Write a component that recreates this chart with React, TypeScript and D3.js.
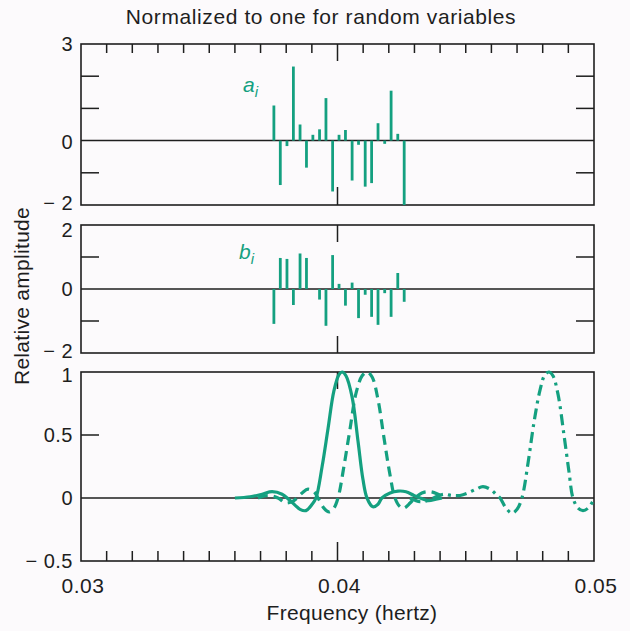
import React from "react";
import * as d3 from "d3";

// Bar frequencies (Hz) and coefficients
const BAR_FREQS = [0.03752, 0.03777, 0.03803, 0.03828, 0.03854, 0.03879, 0.03904, 0.0393, 0.03955, 0.03981, 0.04006, 0.04031, 0.04057, 0.04082, 0.04108, 0.04133, 0.04158, 0.04184, 0.04209, 0.04235, 0.0426];
const A_VALUES = [1.09, -1.38, -0.17, 2.3, 0.5, -0.84, 0.18, 0.35, 1.32, -1.58, 0.18, 0.33, -1.24, -0.13, -1.43, -1.32, 0.54, -0.1, 1.55, 0.21, -2.0];
const B_VALUES = [-1.09, 0.97, 0.94, -0.5, 1.11, 0.97, 0, -0.33, -1.15, 1.06, 0.16, -0.52, 0.2, -0.91, -0.18, -0.87, -1.12, -0.13, -0.87, 0.5, -0.4];

// Bottom panel curves
const SOLID_F = [0.036, 0.03659, 0.03706, 0.03745, 0.03784, 0.03815, 0.03854, 0.03877, 0.03901, 0.03916, 0.0394, 0.03963, 0.03986, 0.04006, 0.04018, 0.04033, 0.04057, 0.0408, 0.04099, 0.04115, 0.04138, 0.04158, 0.04173, 0.04205, 0.04236, 0.04267, 0.04298, 0.04322, 0.04353, 0.04384, 0.04407];
const SOLID_V = [0.0, 0.01, 0.03, 0.05, 0.03, -0.02, -0.09, -0.1, -0.05, 0.0, 0.25, 0.55, 0.85, 0.98, 1.0, 0.97, 0.8, 0.45, 0.15, 0.0, -0.07, -0.05, 0.0, 0.04, 0.055, 0.05, 0.02, 0.0, -0.02, -0.01, 0.0];

const DASHED_F = [0.0369, 0.03729, 0.03768, 0.03799, 0.0383, 0.03862, 0.03885, 0.03908, 0.03924, 0.03947, 0.03967, 0.03986, 0.04002, 0.04025, 0.04049, 0.04072, 0.04096, 0.04115, 0.04135, 0.04158, 0.04181, 0.04205, 0.04224, 0.04244, 0.04259, 0.04283, 0.04302, 0.04329, 0.04361, 0.04392, 0.04419];
const DASHED_V = [0.0, 0.02, 0.0, -0.04, -0.02, 0.04, 0.07, 0.05, 0.0, -0.08, -0.11, -0.08, 0.0, 0.25, 0.55, 0.83, 0.97, 1.0, 0.96, 0.78, 0.48, 0.18, 0.0, -0.07, -0.08, -0.04, 0.0, 0.04, 0.05, 0.03, 0.0];

const DASHDOT_F = [0.04283, 0.04322, 0.04353, 0.04384, 0.04415, 0.04446, 0.04478, 0.04509, 0.0454, 0.04567, 0.04595, 0.04618, 0.04634, 0.04657, 0.0468, 0.047, 0.04719, 0.04743, 0.04766, 0.0479, 0.04809, 0.04825, 0.0484, 0.0486, 0.04883, 0.04903, 0.04918, 0.04938, 0.04957, 0.04977, 0.05];
const DASHDOT_V = [0.0, -0.03, -0.02, 0.01, 0.03, 0.02, 0.02, 0.04, 0.07, 0.09, 0.07, 0.03, 0.0, -0.08, -0.12, -0.09, 0.0, 0.28, 0.6, 0.86, 0.98, 1.0, 0.97, 0.82, 0.5, 0.2, 0.0, -0.08, -0.1, -0.08, -0.01];

const X_TICK_LABELS = ["0.03", "0.04", "0.05"];
const X_TICK_VALUES = [0.03, 0.04, 0.05];
const X_MINOR = d3.range(31, 50).map((d) => d / 1000);

const GREEN = "#14a080";
const INK = "#1e1e1e";
const FONT = "'Liberation Sans', Arial, sans-serif";

const X0 = 81;
const X1 = 594;

const x = d3.scaleLinear().domain([0.03, 0.05]).range([X0, X1]);

type Panel = {
  top: number;
  bottom: number;
  domain: [number, number];
  labels: { v: number; t: string; off: number }[];
  minor: number[];
};

const PANELS: Panel[] = [
  { top: 44, bottom: 205, domain: [-2, 3], labels: [{ v: 3, t: "3", off: 0 }, { v: 0, t: "0", off: 1 }, { v: -2, t: "\u2212 2", off: -2 }], minor: [2, 1, -1] },
  { top: 225, bottom: 353, domain: [-2, 2], labels: [{ v: 2, t: "2", off: 5 }, { v: 0, t: "0", off: 0 }, { v: -2, t: "\u2212 2", off: -2 }], minor: [1, -1] },
  { top: 372, bottom: 561, domain: [-0.5, 1], labels: [{ v: 1, t: "1", off: 3 }, { v: 0.5, t: "0.5", off: 0 }, { v: 0, t: "0", off: 0 }, { v: -0.5, t: "\u2212 0.5", off: 0 }], minor: [0.5] },
];

function yScale(p: Panel) {
  return d3.scaleLinear().domain(p.domain).range([p.bottom, p.top]);
}

export default function App() {
  const [pa, pb, pc] = PANELS;
  const ya = yScale(pa);
  const yb = yScale(pb);
  const yc = yScale(pc);

  const line = d3
    .line<[number, number]>()
    .x((d) => x(d[0]))
    .y((d) => yc(d[1]))
    .curve(d3.curveCatmullRom.alpha(0.5));

  const solid = line(SOLID_F.map((f, i) => [f, SOLID_V[i]]));
  const dashed = line(DASHED_F.map((f, i) => [f, DASHED_V[i]]));
  const dashdot = line(DASHDOT_F.map((f, i) => [f, DASHDOT_V[i]]));

  const frame = (p: Panel, y: d3.ScaleLinear<number, number>, key: string) => (
    <g key={key}>
      <rect x={X0} y={p.top} width={X1 - X0} height={p.bottom - p.top} fill="none" stroke={INK} strokeWidth={1.6} />
      <line x1={X0} x2={X1} y1={y(0)} y2={y(0)} stroke={INK} strokeWidth={1.5} />
      {p.minor.map((v) => (
        <g key={v}>
          <line x1={X0} x2={X0 + 18} y1={y(v)} y2={y(v)} stroke={INK} strokeWidth={1.5} />
          <line x1={X1 - 18} x2={X1} y1={y(v)} y2={y(v)} stroke={INK} strokeWidth={1.5} />
        </g>
      ))}
      {p.labels.map((l) => (
        <text key={l.t} x={X0 - 8} y={y(l.v) + l.off} dy="0.36em" textAnchor="end" fontSize={20} fontFamily={FONT} fill={INK} letterSpacing={0.5}>
          {l.t}
        </text>
      ))}
    </g>
  );

  return (
    <svg width={630} height={631} style={{ position: "absolute", left: 0, top: 0, background: "#fcfafc" }}>
      <text x={321} y={24} textAnchor="middle" fontSize={21} fontFamily={FONT} fill={INK} letterSpacing={0.6}>
        Normalized to one for random variables
      </text>

      {frame(pa, ya, "a")}
      {frame(pb, yb, "b")}
      {frame(pc, yc, "c")}

      {/* top of top panel minor ticks */}
      {X_MINOR.map((f) => (
        <line key={"ta" + f} x1={x(f)} x2={x(f)} y1={pa.top} y2={pa.top + (f === 0.04 ? 17 : 9)} stroke={INK} strokeWidth={1.5} />
      ))}
      {/* bottom of bottom panel ticks */}
      {X_MINOR.map((f) => (
        <line key={"bc" + f} x1={x(f)} x2={x(f)} y1={pc.bottom} y2={pc.bottom - (f === 0.04 ? 19 : 10)} stroke={INK} strokeWidth={1.5} />
      ))}
      {/* center ticks */}
      <line x1={x(0.04)} x2={x(0.04)} y1={pa.bottom} y2={pa.bottom - 18} stroke={INK} strokeWidth={1.5} />
      <line x1={x(0.04)} x2={x(0.04)} y1={pb.top} y2={pb.top + 17} stroke={INK} strokeWidth={1.5} />
      <line x1={x(0.04)} x2={x(0.04)} y1={pb.bottom} y2={pb.bottom - 17} stroke={INK} strokeWidth={1.5} />
      <line x1={x(0.04)} x2={x(0.04)} y1={pc.top} y2={pc.top + 17} stroke={INK} strokeWidth={1.5} />

      {/* bars a_i */}
      {BAR_FREQS.map((f, i) => (
        <line key={"a" + i} x1={x(f)} x2={x(f)} y1={ya(0)} y2={ya(A_VALUES[i])} stroke={GREEN} strokeWidth={2.8} />
      ))}
      {BAR_FREQS.map((f, i) =>
        B_VALUES[i] === 0 ? null : (
          <line key={"b" + i} x1={x(f)} x2={x(f)} y1={yb(0)} y2={yb(B_VALUES[i])} stroke={GREEN} strokeWidth={2.8} />
        )
      )}

      <text x={243} y={92} fontSize={21} fontStyle="italic" fontFamily={FONT} fill={GREEN}>
        a<tspan fontSize={15} dy={5}>i</tspan>
      </text>
      <text x={239} y={259} fontSize={21} fontStyle="italic" fontFamily={FONT} fill={GREEN}>
        b<tspan fontSize={15} dy={5}>i</tspan>
      </text>

      {/* curves */}
      <path d={solid || ""} fill="none" stroke={GREEN} strokeWidth={3.2} />
      <path d={dashed || ""} fill="none" stroke={GREEN} strokeWidth={3.2} strokeDasharray="10 6" />
      <path d={dashdot || ""} fill="none" stroke={GREEN} strokeWidth={3.2} strokeDasharray="11 5 3 5" />

      {X_TICK_VALUES.map((v, i) => (
        <text key={v} x={x(v) + 2} y={585} dy="0.36em" textAnchor="middle" fontSize={21} fontFamily={FONT} fill={INK} letterSpacing={0.5}>
          {X_TICK_LABELS[i]}
        </text>
      ))}
      <text x={352} y={612} dy="0.36em" textAnchor="middle" fontSize={21} fontFamily={FONT} fill={INK} letterSpacing={0.3}>
        Frequency (hertz)
      </text>
      <text transform="translate(21,296) rotate(-90)" textAnchor="middle" dy="0.36em" fontSize={21} fontFamily={FONT} fill={INK} letterSpacing={0.3}>
        Relative amplitude
      </text>
    </svg>
  );
}
